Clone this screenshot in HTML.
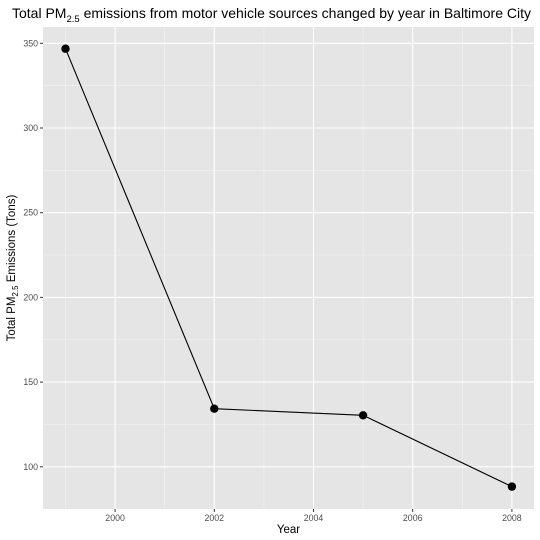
<!DOCTYPE html>
<html><head><meta charset="utf-8"><style>
body{margin:0;background:#fff;}
svg{display:block;font-family:"Liberation Sans",Arial,sans-serif;}
</style></head><body>
<svg id="chart" width="540" height="540">
<text x="12" y="18" font-size="14" fill="#000">Total PM<tspan font-size="9.5" dy="4">2.5</tspan><tspan dy="-4"> emissions from motor vehicle sources changed by year in Baltimore City</tspan></text>
<rect x="43" y="27" width="491" height="482" fill="#e5e5e5"/>
<g id="grid"></g><g id="axes"></g><g id="marks"></g>
<text x="288.5" y="533" font-size="11.5" text-anchor="middle">Year</text>
<text transform="translate(15,268) rotate(-90)" font-size="11.5" text-anchor="middle">Total PM<tspan font-size="8" dy="3">2.5</tspan><tspan dy="-3"> Emissions (Tons)</tspan></text>
</svg>
<script>
const years=[1999,2002,2005,2008];
const emissions=[346.8,134.3,130.4,88.3];
const xTicks=[2000,2002,2004,2006,2008];
const yTicks=[100,150,200,250,300,350];
const NS="http://www.w3.org/2000/svg";
const X=v=>65.5+(v-1999)*49.6;
const Y=v=>128-(v-300)*1.694;
function mk(p,t,a){const e=document.createElementNS(NS,t);for(const k in a)e.setAttribute(k,a[k]);document.getElementById(p).appendChild(e);return e;}
for(let v=1999;v<=2009;v+=2){const x=X(v);if(x>43&&x<534){const l=mk('grid','line',{x1:x,x2:x,y1:27,y2:509,stroke:'#f2f2f2','stroke-width':0.6});

}}
for(let v=75;v<=375;v+=50){const y=Y(v);if(y>27&&y<509){const l=mk('grid','line',{x1:43,x2:534,y1:y,y2:y,stroke:'#f2f2f2','stroke-width':0.6});

}}
xTicks.forEach(v=>{const x=X(v);
const g=mk('grid','line',{x1:x,x2:x,y1:27,y2:509,stroke:'#fff','stroke-width':1.1});


const t=mk('axes','line',{x1:x,x2:x,y1:509,y2:512,stroke:'#333'});


const s=mk('axes','text',{x:x,y:521,'font-size':8.8,fill:'#4d4d4d','text-anchor':'middle'});s.textContent=v;

});
yTicks.forEach(v=>{const y=Y(v);
const g=mk('grid','line',{x1:43,x2:534,y1:y,y2:y,stroke:'#fff','stroke-width':1.1});


const t=mk('axes','line',{x1:40,x2:43,y1:y,y2:y,stroke:'#333'});


const s=mk('axes','text',{x:38,y:y+3,'font-size':8.8,fill:'#4d4d4d','text-anchor':'end'});s.textContent=v;

});
const line=mk('marks','polyline',{points:years.map((y,i)=>X(y)+','+Y(emissions[i])).join(' '),fill:'none',stroke:'#000','stroke-width':1.1});


years.forEach((y,i)=>{const c=mk('marks','circle',{cx:X(y),cy:Y(emissions[i]),r:4.2,fill:'#000'});

});
</script>
</body></html>
